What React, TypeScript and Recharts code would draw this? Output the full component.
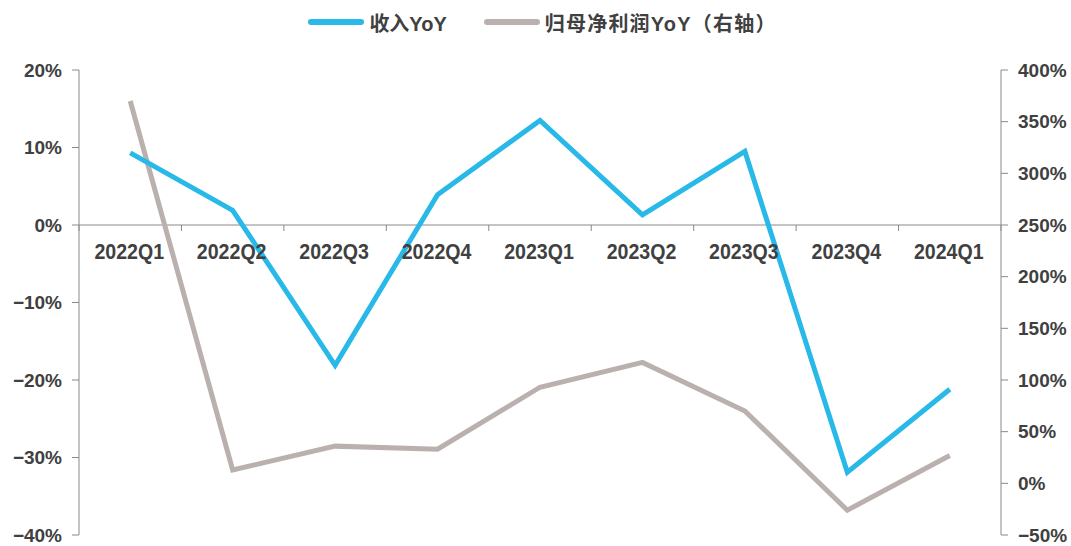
import React from "react";
import { LineChart, Line, XAxis, YAxis, ReferenceLine, Legend } from "recharts";

const categories = ["2022Q1", "2022Q2", "2022Q3", "2022Q4", "2023Q1", "2023Q2", "2023Q3", "2023Q4", "2024Q1"];
const revenueYoY = [0.093, 0.019, -0.181, 0.039, 0.135, 0.013, 0.095, -0.319, -0.212];
const profitYoY = [3.7, 0.13, 0.36, 0.33, 0.93, 1.17, 0.7, -0.26, 0.27];
const leftTicks = [-0.4, -0.3, -0.2, -0.1, 0, 0.1, 0.2];
const rightTicks = [-0.5, 0, 0.5, 1, 1.5, 2, 2.5, 3, 3.5, 4];
const seriesNames = ["收入YoY", "归母净利润YoY（右轴）"];

const data = categories.map((c, i) => ({ name: c, rev: revenueYoY[i], profit: profitYoY[i] }));

const W = 1071;
const H = 546;
const PLOT_LEFT = 79;
const PLOT_RIGHT = 1001;
const PLOT_TOP = 70;
const PLOT_BOTTOM = 535;
const LEFT_MIN = -0.4;
const LEFT_MAX = 0.2;
const ZERO_Y = PLOT_TOP + (PLOT_BOTTOM - PLOT_TOP) * (LEFT_MAX / (LEFT_MAX - LEFT_MIN));
const BAND = (PLOT_RIGHT - PLOT_LEFT) / categories.length;

const BLUE = "#29B9E8";
const GRAY = "#BAB1AF";
const TEXT = "#404040";
const AXIS = "#8a8a8a";
const FONT = "'Liberation Sans', Arial, sans-serif";
const CJK = "'Liberation Sans', 'Noto Sans CJK SC', sans-serif";

const fmt = (v: number) => {
  const p = Math.round(v * 100);
  return (p < 0 ? "\u2212" + Math.abs(p) : String(p)) + "%";
};

const XTick = (props: any) => {
  const { x, payload, index } = props;
  const last = index === categories.length - 1;
  return (
    <g>
      <line x1={x - BAND / 2} x2={x - BAND / 2} y1={ZERO_Y} y2={ZERO_Y + 6} stroke={AXIS} strokeWidth={1} />
      {last && <line x1={x + BAND / 2} x2={x + BAND / 2} y1={ZERO_Y} y2={ZERO_Y + 6} stroke={AXIS} strokeWidth={1} />}
      <text
        transform={`translate(${x - 1},${ZERO_Y + 34}) scale(0.89,1)`}
        x={0}
        y={0}
        textAnchor="middle"
        fontSize={22}
        fontWeight="bold"
        fill={TEXT}
        fontFamily={FONT}
      >
        {payload.value}
      </text>
    </g>
  );
};

const LegendContent = () => {
  const items = [
    { name: seriesNames[0], color: BLUE },
    { name: seriesNames[1], color: GRAY },
  ];
  return (
    <div style={{ display: "flex", justifyContent: "center", alignItems: "center", gap: 37, height: 30, paddingLeft: 14 }}>
      {items.map((it, i) => (
        <div key={it.name} style={{ display: "flex", alignItems: "center" }}>
          <div style={{ width: 56, height: 6, borderRadius: 3, background: it.color, marginRight: 5 }} />
          <span style={{ fontSize: 20, fontWeight: "bold", color: TEXT, fontFamily: CJK, letterSpacing: i === 1 ? 1.2 : 0 }}>{it.name}</span>
        </div>
      ))}
    </div>
  );
};

export default function App() {
  return (
    <div style={{ position: "absolute", left: 0, top: 0, width: W, height: H, background: "#fff" }}>
      <LineChart width={W} height={H} data={data} margin={{ top: 40, right: 0, left: 0, bottom: 10 }}>
        <Legend verticalAlign="top" align="center" content={<LegendContent />} wrapperStyle={{ top: 7 }} />
        <XAxis
          dataKey="name"
          xAxisId="x"
          scale="band"
          axisLine={false}
          tickLine={false}
          height={1}
          interval={0}
          tick={<XTick />}
        />
        <YAxis
          yAxisId="left"
          orientation="left"
          width={79}
          domain={[LEFT_MIN, LEFT_MAX]}
          ticks={leftTicks}
          tickFormatter={fmt}
          axisLine={{ stroke: AXIS }}
          tickLine={{ stroke: AXIS }}
          tickSize={7}
          tickMargin={10}
          tick={{ fontSize: 19, fontWeight: "bold", fill: TEXT, fontFamily: FONT }}
          interval={0}
        />
        <YAxis
          yAxisId="right"
          orientation="right"
          width={70}
          domain={[-0.5, 4]}
          ticks={rightTicks}
          tickFormatter={fmt}
          axisLine={{ stroke: AXIS }}
          tickLine={{ stroke: AXIS }}
          tickSize={7}
          tickMargin={10}
          tick={{ fontSize: 19, fontWeight: "bold", fill: TEXT, fontFamily: FONT }}
          interval={0}
        />
        <ReferenceLine yAxisId="left" xAxisId="x" y={0} stroke={AXIS} strokeWidth={1} />
        <Line
          xAxisId="x"
          yAxisId="right"
          type="linear"
          dataKey="profit"
          name={seriesNames[1]}
          stroke={GRAY}
          strokeWidth={5}
          dot={false}
          isAnimationActive={false}
        />
        <Line
          xAxisId="x"
          yAxisId="left"
          type="linear"
          dataKey="rev"
          name={seriesNames[0]}
          stroke={BLUE}
          strokeWidth={5}
          dot={false}
          isAnimationActive={false}
        />
      </LineChart>
    </div>
  );
}
